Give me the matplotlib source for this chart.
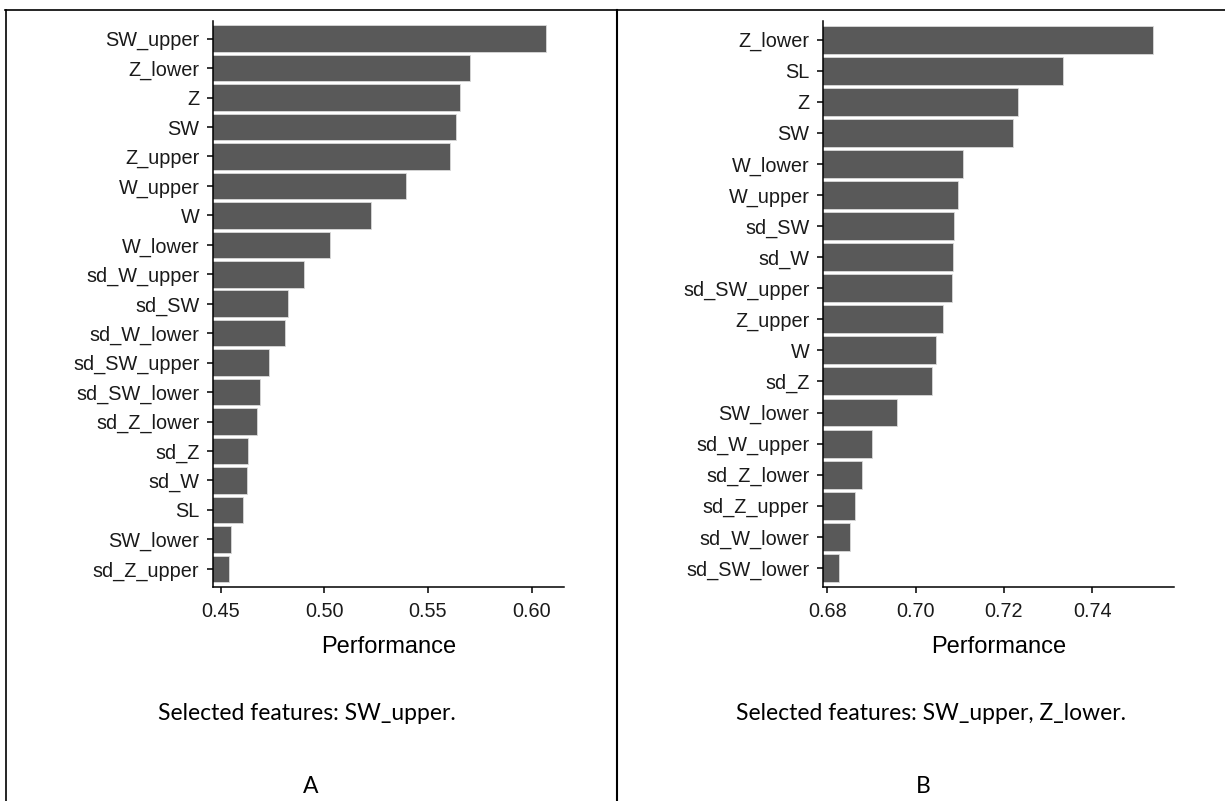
import matplotlib as mpl
mpl.use('Agg')
import matplotlib.pyplot as plt
from matplotlib.lines import Line2D
import numpy as np

# panel A (top to bottom)
feat_a = ['SW_upper', 'Z_lower', 'Z', 'SW', 'Z_upper', 'W_upper', 'W', 'W_lower',
          'sd_W_upper', 'sd_SW', 'sd_W_lower', 'sd_SW_upper', 'sd_SW_lower',
          'sd_Z_lower', 'sd_Z', 'sd_W', 'SL', 'SW_lower', 'sd_Z_upper']
perf_a = [0.6069, 0.5703, 0.5653, 0.5634, 0.5608, 0.5394, 0.5224, 0.5027,
          0.4902, 0.4823, 0.4812, 0.4733, 0.4691, 0.4677, 0.4632, 0.4627,
          0.4609, 0.4548, 0.4542]
ticks_a = [0.45, 0.50, 0.55, 0.60]

# panel B (top to bottom)
feat_b = ['Z_lower', 'SL', 'Z', 'SW', 'W_lower', 'W_upper', 'sd_SW', 'sd_W',
          'sd_SW_upper', 'Z_upper', 'W', 'sd_Z', 'SW_lower', 'sd_W_upper',
          'sd_Z_lower', 'sd_Z_upper', 'sd_W_lower', 'sd_SW_lower']
perf_b = [0.7538, 0.7335, 0.7232, 0.7221, 0.7108, 0.7096, 0.7087, 0.7085,
          0.7083, 0.7062, 0.7047, 0.7038, 0.6958, 0.6902, 0.6879, 0.6863,
          0.6851, 0.6827]
ticks_b = [0.68, 0.70, 0.72, 0.74]

captions = ['Selected features: SW_upper.', 'Selected features: SW_upper, Z_lower.']
letters = ['A', 'B']

W, H = 1225, 801
fig = plt.figure(figsize=(W / 100, H / 100), dpi=100)
plt.rcParams['font.family'] = ['Liberation Sans', 'DejaVu Sans']


def px_axes(left, top, right, bottom):
    return fig.add_axes([left / W, 1 - bottom / H, (right - left) / W, (bottom - top) / H])


def draw_panel(ax, feats, vals, ticks, xlim):
    n = len(feats)
    y = np.arange(n)[::-1] + 1
    ax.barh(y, vals, height=0.9, color='#595959', edgecolor='#d9d9d9', linewidth=0.6)
    ax.set_xlim(*xlim)
    ax.set_ylim(0.4, n + 0.6)
    ax.set_yticks(y)
    ax.set_yticklabels(feats, fontsize=14.3, color='#1a1a1a')
    ax.set_xticks(ticks)
    ax.set_xticklabels(['%.2f' % t for t in ticks], fontsize=14.3, color='#1a1a1a')
    ax.set_xlabel('Performance', fontsize=17, labelpad=11)
    for s in ['top', 'right']:
        ax.spines[s].set_visible(False)
    for s in ['left', 'bottom']:
        ax.spines[s].set_linewidth(1.1)
    ax.tick_params(length=4.5, width=1.1)
    ax.tick_params(axis='x', pad=6.5)
    ax.tick_params(axis='y', pad=5.5)


ax_a = px_axes(213.3, 21, 564.3, 586.5)
draw_panel(ax_a, feat_a, perf_a, ticks_a, (0.4464, 0.6158))
ax_b = px_axes(823.3, 21, 1174.3, 586.5)
draw_panel(ax_b, feat_b, perf_b, ticks_b, (0.6791, 0.7586))

# captions below each panel
for cx, lx, cap, let in zip([307, 931], [311, 923], captions, letters):
    fig.text(cx / W, 1 - 720 / H, cap, ha='center', va='baseline', fontsize=16.5,
             family=['Lato', 'DejaVu Sans'])
    fig.text(lx / W, 1 - 793 / H, let, ha='center', va='baseline', fontsize=16.5,
             family=['Lato', 'DejaVu Sans'])

# table borders
fig.add_artist(Line2D([5 / W, 1], [1 - 10 / H, 1 - 10 / H], color='black', lw=1.2))
fig.add_artist(Line2D([6 / W, 6 / W], [1 - 10 / H, 0], color='black', lw=1.2))
fig.add_artist(Line2D([616.7 / W, 616.7 / W], [1 - 10 / H, 0], color='black', lw=1.5))

fig.savefig('out.png', dpi=100)
